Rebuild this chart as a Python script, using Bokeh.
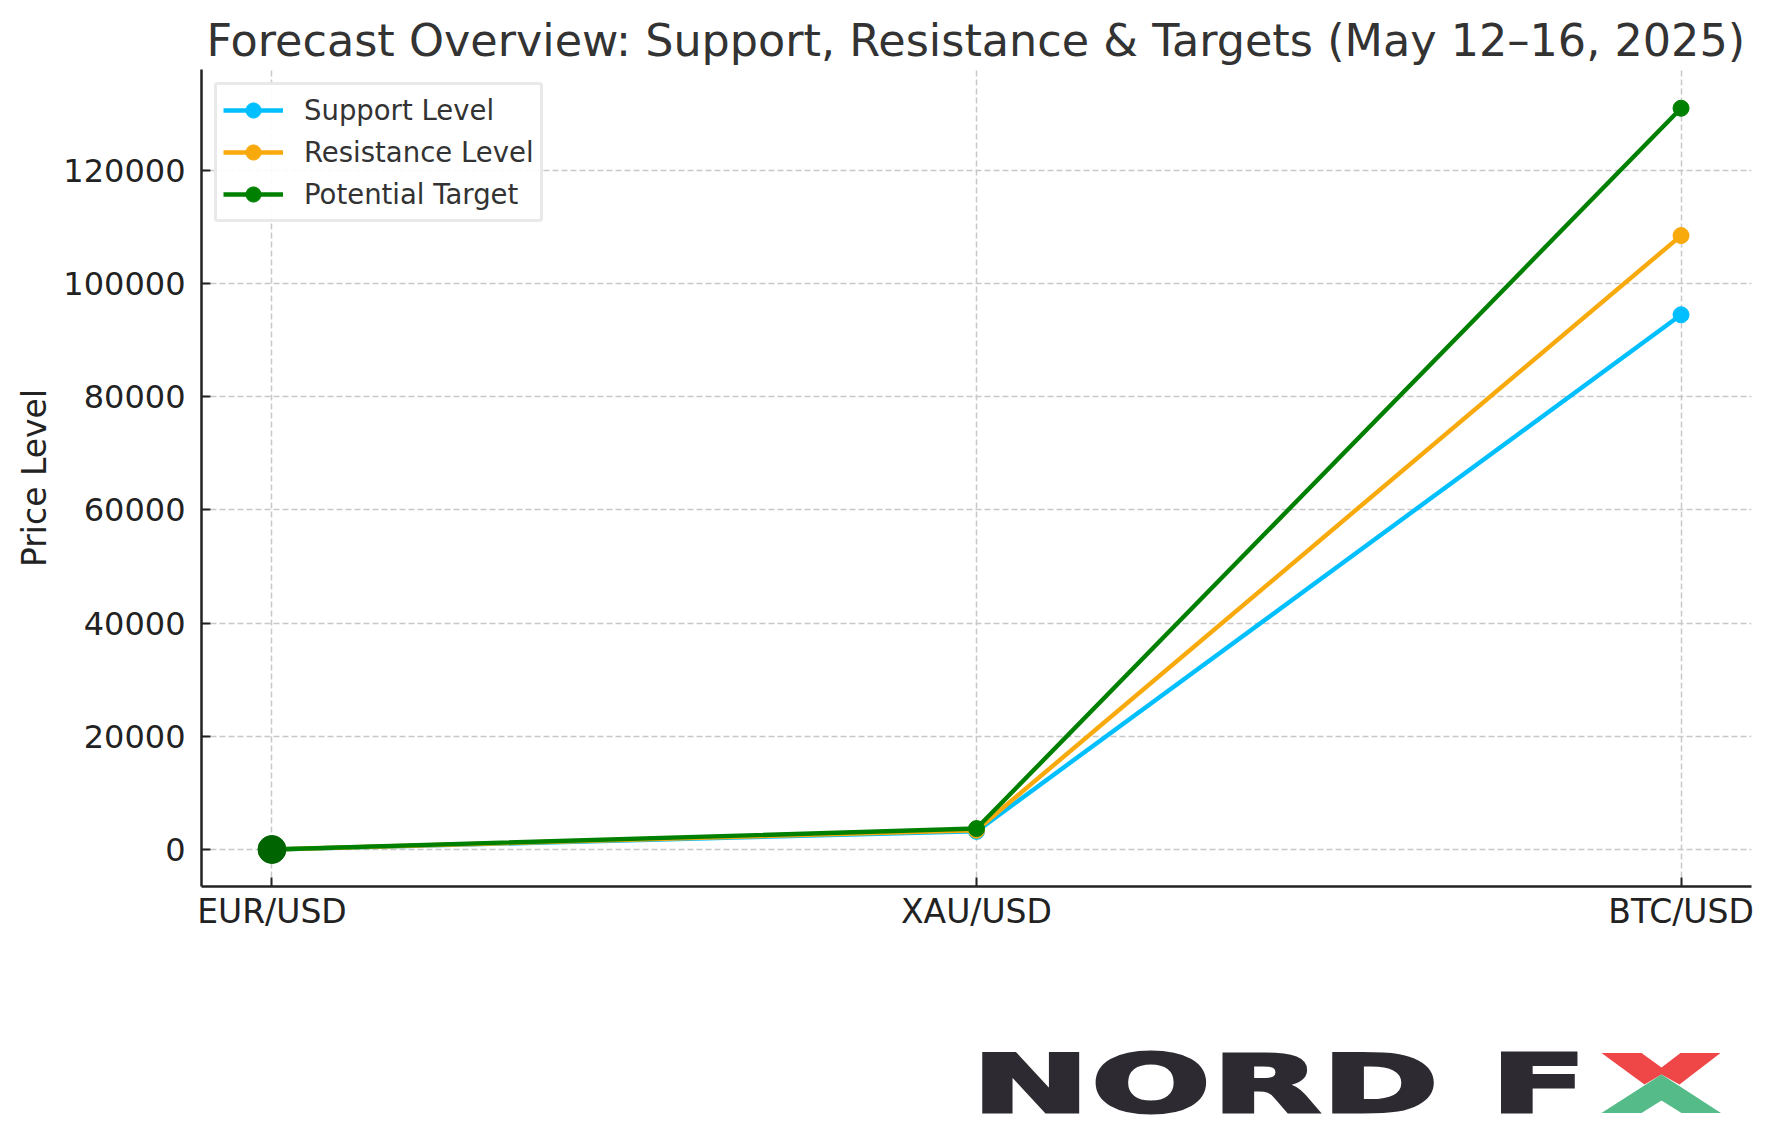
from bokeh.embed import file_html
from bokeh.resources import INLINE
from bokeh.plotting import figure
from bokeh.layouts import column, row
from bokeh.models import Range1d, FixedTicker, Legend, LegendItem, Div

categories = ["EUR/USD", "XAU/USD", "BTC/USD"]
support_level = [1.10, 3200, 94500]
resistance_level = [1.12, 3400, 108500]
potential_target = [1.15, 3700, 131000]
highlight_value = [1.15]
y_ticks = [0, 20000, 40000, 60000, 80000, 100000, 120000]
title_text = "Forecast Overview: Support, Resistance & Targets (May 12\u201316, 2025)"
y_label = "Price Level"

FONT = "DejaVu Sans"
xs = list(range(len(categories)))

p = figure(width=1766, height=950, output_backend="svg", toolbar_location=None,
           x_range=Range1d(-0.1, 2.1), y_range=Range1d(-6540, 137850),
           min_border_left=201, min_border_right=15, min_border_top=69, min_border_bottom=64)
p.outline_line_color = None
p.background_fill_color = "white"
p.border_fill_color = "white"

p.title.text = title_text
p.title.text_font = FONT
p.title.text_font_size = "44.5px"
p.title.text_font_style = "normal"
p.title.text_color = "#333333"
p.title.offset = 5
p.title.standoff = 8

for ax in (p.xaxis[0], p.yaxis[0]):
    ax.axis_line_color = "#222222"
    ax.axis_line_width = 2.5
    ax.major_tick_line_color = "#222222"
    ax.major_tick_line_width = 2
    ax.major_tick_in = 9
    ax.major_tick_out = 0
    ax.minor_tick_line_color = None
    ax.major_label_text_font = FONT
    ax.major_label_text_color = "#222222"

p.xaxis[0].major_label_text_font_size = "33px"
p.xaxis[0].major_label_standoff = 5
p.yaxis[0].major_label_text_font_size = "32px"
p.yaxis[0].major_label_standoff = 16

p.xaxis[0].ticker = FixedTicker(ticks=xs)
p.xaxis[0].major_label_overrides = {i: c for i, c in enumerate(categories)}
p.yaxis[0].ticker = FixedTicker(ticks=y_ticks)
p.yaxis[0].formatter.use_scientific = False
p.yaxis[0].axis_label = y_label
p.yaxis[0].axis_label_text_font = FONT
p.yaxis[0].axis_label_text_font_size = "33px"
p.yaxis[0].axis_label_text_font_style = "normal"
p.yaxis[0].axis_label_text_color = "#222222"
p.yaxis[0].axis_label_standoff = 6

for g in (p.xgrid[0], p.ygrid[0]):
    g.grid_line_color = "#c8c8c8"
    g.grid_line_width = 1.5
    g.grid_line_dash = [6, 3]

items = []
for name, vals, col in [("Support Level", support_level, "#00BFFF"),
                        ("Resistance Level", resistance_level, "#F8A90C"),
                        ("Potential Target", potential_target, "#008000")]:
    ln = p.line(xs, vals, line_color=col, line_width=4.4)
    ci = p.scatter(xs, vals, marker="circle", size=16, fill_color=col, line_color=col)
    items.append(LegendItem(label=name, renderers=[ln, ci]))

p.scatter(xs[:1], highlight_value, marker="circle", size=28,
          fill_color="#006400", line_color="#006400")

legend = Legend(items=items, location="top_left", margin=13, padding=6, spacing=4,
                glyph_width=60, glyph_height=38, label_standoff=21,
                label_text_font=FONT, label_text_font_size="27.5px", label_text_color="#333333",
                label_height=30,
                border_line_color="#d4d4d4", border_line_width=3, border_radius=4,
                background_fill_color="white", background_fill_alpha=0.9)
p.add_layout(legend)

# Logo wordmark (real text, stretched) and its two-colour X emblem
word_style = ("position:absolute;left:972px;top:95px;white-space:pre;"
              "font-family:'DejaVu Sans';font-weight:bold;font-size:80px;line-height:1;"
              "color:#2D2A32;letter-spacing:1px;-webkit-text-stroke:3px #2D2A32;"
              "transform:scaleX(1.754);transform-origin:left top;")
logo_word = Div(text=f'<div style="position:relative;width:1596px;height:188px;overflow:visible;"><span style="{word_style}">NORD F</span></div>',
                width=1596, height=188, margin=(0, 0, 0, 0))

emblem = figure(width=130, height=188, output_backend="svg", toolbar_location=None,
                x_range=Range1d(1596, 1726), y_range=Range1d(1138, 950),
                min_border=0, outline_line_color=None, x_axis_location=None, y_axis_location=None)
emblem.grid.visible = False
emblem.patch([1601, 1641, 1661, 1680, 1720, 1679, 1661, 1644],
             [1052.5, 1052.5, 1067, 1052.5, 1052.5, 1084, 1074, 1084], fill_color="#EF4648", line_color=None)
emblem.patch([1661, 1720.5, 1681, 1661, 1641, 1601],
             [1074, 1112.5, 1112.5, 1100, 1112.5, 1112.5], fill_color="#55BB88", line_color=None)

page = column(p, row(logo_word, emblem, spacing=0), spacing=0)
open("out.html", "w").write(file_html(page, INLINE))
